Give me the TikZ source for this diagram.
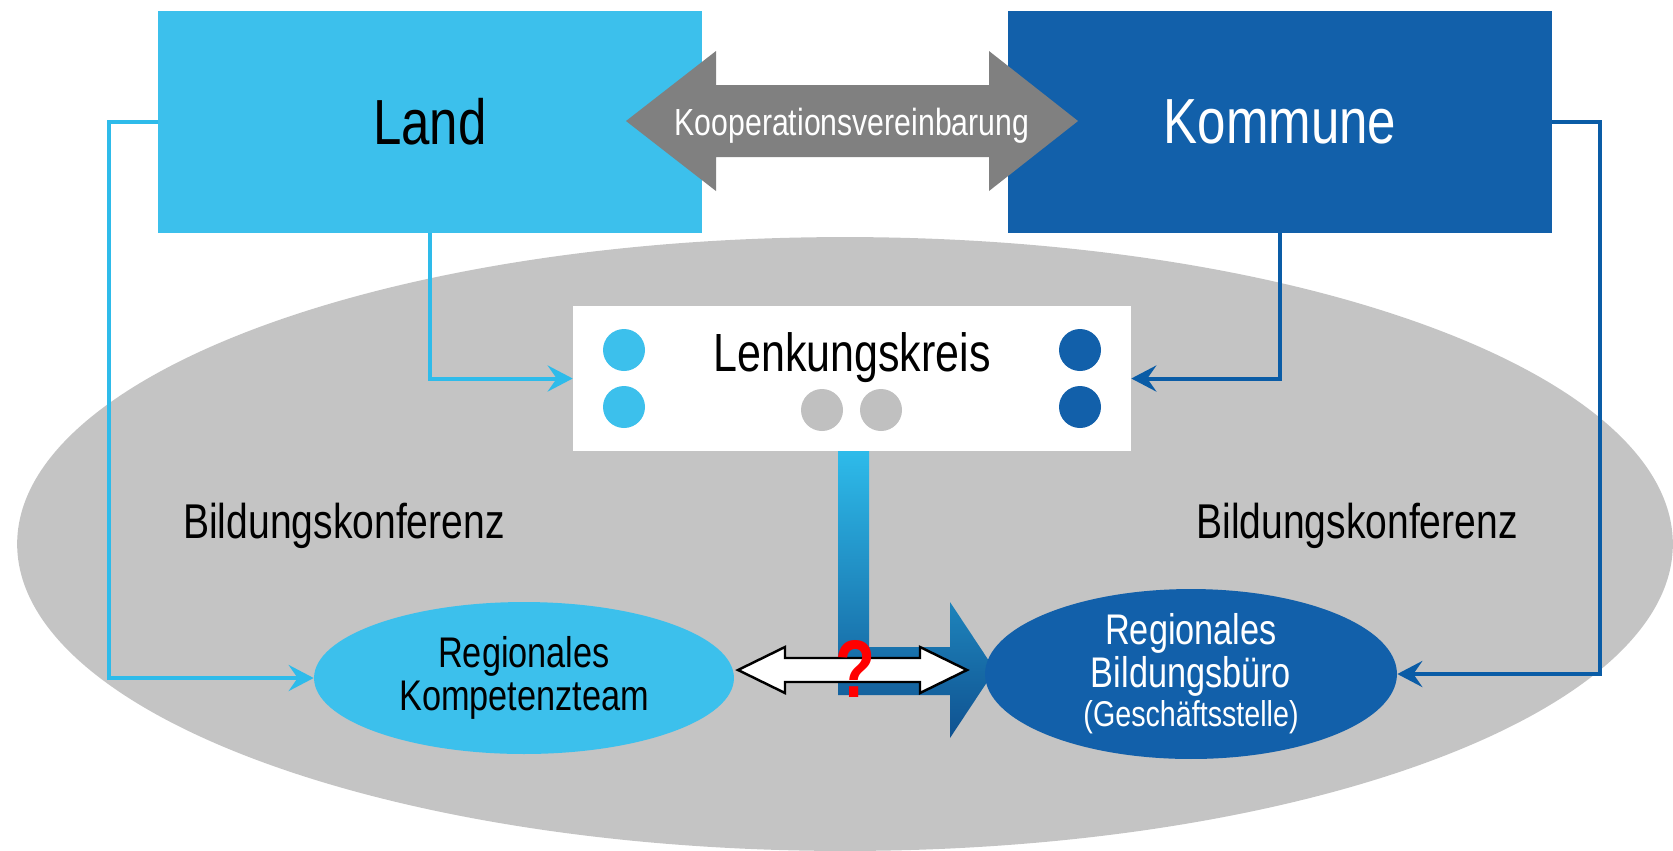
\documentclass[tikz,border=0pt]{standalone}
\usepackage{fontspec}
\setmainfont[FakeStretch=0.8]{Liberation Sans}
\usetikzlibrary{shapes.geometric,arrows.meta}

\definecolor{landblau}{RGB}{60,192,236}
\definecolor{kommuneblau}{RGB}{18,96,170}
\definecolor{linieHell}{RGB}{46,187,234}
\definecolor{linieDunkel}{RGB}{10,92,166}
\definecolor{konfgrau}{RGB}{196,196,196}
\definecolor{pfeilgrau}{RGB}{128,128,128}
\definecolor{punktgrau}{RGB}{192,192,192}

\tikzset{
  partner/.style={rectangle, inner sep=0pt, minimum width=10.88cm, minimum height=4.44cm,
    font=\fontsize{36.3pt}{40pt}\selectfont},
  punkt/.style={circle, inner sep=0pt, minimum size=0.84cm},
  verbindung/.style={line width=0.08cm, -{Stealth[length=0.5cm,width=0.52cm,inset=0.18cm]}},
  team/.style={ellipse, inner sep=0pt, align=center, font=\fontsize{24.4pt}{24.4pt}\selectfont},
  konftext/.style={anchor=base, font=\fontsize{27.8pt}{30pt}\selectfont},
}

\begin{document}
\begin{tikzpicture}[x=0.02cm, y=-0.02cm]
    \useasboundingbox (0,0) rectangle (1673,850);

    % Bildungskonferenz
    \node [ellipse, fill=konfgrau, inner sep=0pt, minimum width=33.12cm, minimum height=12.28cm] (konf) at (845,544) {};
    \node [konftext] (konfL) at (344,538) {Bildungskonferenz};
    \node [konftext] (konfR) at (1357,538) {Bildungskonferenz};

    % Land und Kommune
    \node [partner, fill=landblau] (land) at (430,122) {Land};
    \node [partner, fill=kommuneblau, text=white] (kommune) at (1280,122) {Kommune};

    \fill [pfeilgrau] (626,121) -- (716,51) -- (716,85) -- (989,85) -- (989,51) -- (1078,121)
        -- (989,191) -- (989,157) -- (716,157) -- (716,191) -- cycle;
    \node [anchor=base, text=white, font=\fontsize{21.5pt}{24pt}\selectfont] (koop) at (852,135) {Kooperationsvereinbarung};

    % Lenkungskreis
    \node [rectangle, fill=white, inner sep=0pt, minimum width=11.16cm, minimum height=2.9cm] (lenk) at (852,378.5) {};
    \node [anchor=base, font=\fontsize{30.6pt}{34pt}\selectfont] (lenktext) at (852,371) {Lenkungskreis};
    \node [punkt, fill=landblau] (l1) at (624,350) {};
    \node [punkt, fill=landblau] (l2) at (624,407) {};
    \node [punkt, fill=punktgrau] (g1) at (822,410) {};
    \node [punkt, fill=punktgrau] (g2) at (881,410) {};
    \node [punkt, fill=kommuneblau] (k1) at (1080,350) {};
    \node [punkt, fill=kommuneblau] (k2) at (1080,407) {};

    \shade [top color=linieHell, bottom color=kommuneblau!85!black] (838,451) -- (869,451) -- (869,647) -- (950,647)
        -- (950,602) -- (995,670) -- (950,738) -- (950,695) -- (838,695) -- cycle;

    % Kompetenzteam und Bildungsbuero
    \node [team, fill=landblau, minimum width=8.4cm, minimum height=3.04cm] (kteam) at (524,678) {Regionales\\Kompetenzteam};
    \node [team, fill=kommuneblau, text=white, minimum width=8.24cm, minimum height=3.36cm] (buero) at (1191,674)
        {Regionales\\Bildungsbüro\\[-2.3pt]{\fontsize{20.4pt}{22pt}\selectfont (Geschäftsstelle)}};

    \filldraw [fill=white, draw=black, line width=1.4pt] (738,670) -- (785,647) -- (785,658) -- (920,658) -- (920,647)
        -- (967,670) -- (920,693) -- (920,682) -- (785,682) -- (785,693) -- cycle;
    \node [anchor=base, inner sep=0pt, text=red, font=\fontsize{46.5pt}{50pt}\selectfont\bfseries] (frage) at (855,697) {?};

    \draw [verbindung, linieHell] (land.west) -- ++(-49,0) |- (kteam.west);
    \draw [verbindung, linieHell] (land.south) |- (lenk.west);
    \draw [verbindung, linieDunkel] (kommune.south) |- (lenk.east);
    \draw [verbindung, linieDunkel] (kommune.east) -- ++(48,0) |- (buero.east);

\end{tikzpicture}
\end{document}
